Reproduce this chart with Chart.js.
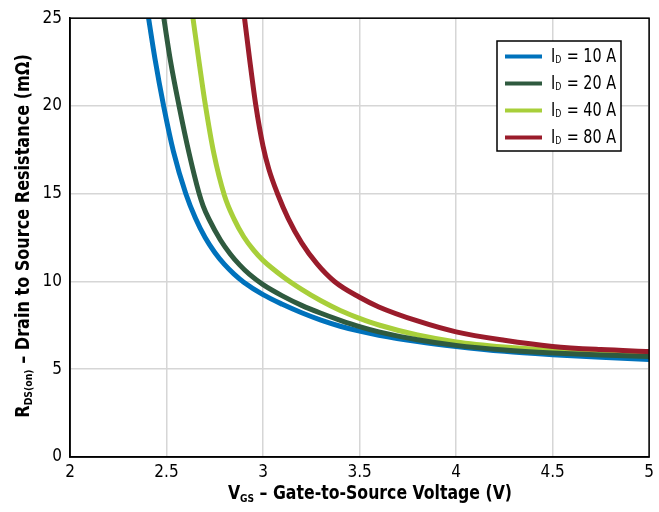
<!DOCTYPE html>
<html><head><meta charset="utf-8">
<script src="https://cdn.jsdelivr.net/npm/chart.js@4/dist/chart.umd.min.js"></script>
<style>html,body{margin:0;padding:0;background:#fff;}#wrap{width:659px;height:512px;position:relative;}</style>
</head><body><div id="wrap"><canvas id="c" width="659" height="512"></canvas></div>
<script>
// ---- data ----
const seriesCurrents = ['10 A', '20 A', '40 A', '80 A'];
const seriesColors = ['#0072bc', '#2f5a3f', '#a8cf3a', '#9a1c2b'];

const vgs10 = [2.407,2.44,2.485,2.536,2.6,2.65,2.7,2.75,2.8,2.85,2.9,3.0,3.1,3.2,3.3,3.4,3.5,3.6,3.8,4.0,4.25,4.5,4.75,5.0];
const rds10 = [25,22.7,20.0,17.4,15.0,13.6,12.5,11.65,10.97,10.42,9.96,9.25,8.7,8.22,7.8,7.45,7.17,6.94,6.58,6.3,6.02,5.83,5.68,5.56];

const vgs20 = [2.486,2.52,2.565,2.616,2.668,2.69,2.72,2.78,2.83,2.88,2.93,3.0,3.1,3.2,3.3,3.4,3.5,3.6,3.8,4.0,4.25,4.5,4.75,5.0];
const rds20 = [25,22.6,20,17.35,15.05,14.3,13.55,12.35,11.57,10.93,10.4,9.82,9.18,8.64,8.19,7.79,7.43,7.13,6.68,6.36,6.1,5.93,5.81,5.72];

const vgs40 = [2.637,2.67,2.702,2.745,2.8,2.85,2.9,2.95,3.0,3.1,3.2,3.3,3.4,3.5,3.6,3.8,4.0,4.25,4.5,4.75,5.0];
const rds40 = [25,22.4,20,17.3,14.9,13.55,12.55,11.8,11.2,10.3,9.55,8.9,8.35,7.9,7.52,6.95,6.56,6.27,6.08,5.95,5.86];

const vgs80 = [2.904,2.93,2.963,3.0,3.03,3.075,3.13,3.2,3.28,3.37,3.5,3.6,3.8,4.0,4.25,4.5,4.75,5.0];
const rds80 = [25,22.7,20,17.7,16.4,15.0,13.6,12.2,11.0,10.0,9.1,8.55,7.75,7.13,6.65,6.3,6.12,6.01];

const xTickValues = [2, 2.5, 3, 3.5, 4, 4.5, 5];
const xTickLabels = ['2', '2.5', '3', '3.5', '4', '4.5', '5'];
const yTickValues = [0, 5, 10, 15, 20, 25];
const yTickLabels = ['0', '5', '10', '15', '20', '25'];

const xTitleParts = [['V', false], ['GS', true], [' \u2013 Gate-to-Source Voltage (V)', false]];
const yTitleParts = [['R', false], ['DS(on)', true], [' \u2013 Drain to Source Resistance (m\u03A9)', false]];

// ---- build ----
const FONT = '"DejaVu Sans Condensed","Liberation Sans Narrow","Arial Narrow",sans-serif';
const xs = [vgs10, vgs20, vgs40, vgs80];
const ys = [rds10, rds20, rds40, rds80];
const drawOrder = [4, 2, 3, 1];
const datasets = seriesCurrents.map((lab, i) => ({
  label: 'ID = ' + lab,
  data: xs[i].map((v, k) => ({ x: v, y: ys[i][k] })),
  borderColor: seriesColors[i],
  backgroundColor: seriesColors[i],
  borderWidth: 5,
  pointRadius: 0,
  fill: false,
  cubicInterpolationMode: 'monotone',
  order: drawOrder[i]
}));

// draws text with subscripts, centred at (cx, cy), compressed horizontally by sx
function drawRich(ctx, parts, cx, cy, size, bold, sx) {
  const w = bold ? 'bold ' : '';
  const main = w + size + 'px ' + FONT;
  const sub = w + Math.round(size * 0.6) + 'px ' + FONT;
  let total = 0;
  parts.forEach(p => { ctx.font = p[1] ? sub : main; total += ctx.measureText(p[0]).width; });
  ctx.save();
  ctx.translate(cx, cy);
  ctx.scale(sx, 1);
  let x = -total / 2;
  ctx.textBaseline = 'middle';
  ctx.textAlign = 'left';
  parts.forEach(p => {
    ctx.font = p[1] ? sub : main;
    ctx.fillText(p[0], x, p[1] ? size * 0.28 : 0);
    x += ctx.measureText(p[0]).width;
  });
  ctx.restore();
}

const decor = {
  id: 'decor',
  afterDatasetsDraw(chart) {
    const ctx = chart.ctx, a = chart.chartArea;
    ctx.save();
    ctx.strokeStyle = '#000';
    ctx.lineWidth = 1.5;
    ctx.strokeRect(a.left, a.top, a.right - a.left, a.bottom - a.top);
    ctx.restore();
  },
  afterDraw(chart) {
    const ctx = chart.ctx;
    ctx.save();
    ctx.fillStyle = '#000';
    drawRich(ctx, xTitleParts, 370, 494, 19, true, 0.92);
    ctx.translate(24, 236);
    ctx.rotate(-Math.PI / 2);
    drawRich(ctx, yTitleParts, 0, 0, 19, true, 0.94);
    ctx.restore();

    // legend
    ctx.save();
    const bx = 497, by = 41, bw = 124, bh = 110;
    ctx.fillStyle = '#fff';
    ctx.fillRect(bx, by, bw, bh);
    ctx.strokeStyle = '#000';
    ctx.lineWidth = 1.5;
    ctx.strokeRect(bx, by, bw, bh);
    seriesCurrents.forEach((lab, i) => {
      const yy = 56.5 + i * 27;
      ctx.strokeStyle = seriesColors[i];
      ctx.lineWidth = 4;
      ctx.beginPath();
      ctx.moveTo(505, yy);
      ctx.lineTo(542, yy);
      ctx.stroke();
      ctx.fillStyle = '#000';
      ctx.save();
      ctx.translate(551, yy);
      ctx.scale(0.8, 1);
      ctx.textBaseline = 'middle';
      ctx.textAlign = 'left';
      let x = 0;
      ctx.font = '20px ' + FONT;
      ctx.fillText('I', x, 0);
      x += ctx.measureText('I').width;
      ctx.font = '11px ' + FONT;
      ctx.fillText('D', x, 4);
      x += ctx.measureText('D').width + 1;
      ctx.font = '20px ' + FONT;
      ctx.fillText(' = ' + lab, x, 0);
      ctx.restore();
    });
    ctx.restore();
  }
};

new Chart(document.getElementById('c'), {
  type: 'line',
  data: { datasets },
  options: {
    responsive: false,
    animation: false,
    devicePixelRatio: 1,
    layout: { padding: { left: 0, right: 5, top: 12, bottom: 0 } },
    plugins: { legend: { display: false }, tooltip: { enabled: false } },
    scales: {
      x: {
        type: 'linear', min: 2, max: 5,
        afterBuildTicks: s => { s.ticks = xTickValues.map(v => ({ value: v })); },
        afterFit: s => { s.height = 55; },
        ticks: {
          callback: v => xTickLabels[xTickValues.indexOf(v)],
          font: { family: FONT, size: 17 }, color: '#000', padding: 5, maxRotation: 0, autoSkip: false
        },
        grid: { color: '#d6d6d6', lineWidth: 1.5, drawTicks: false },
        border: { display: true, color: '#000', width: 1.5 }
      },
      y: {
        type: 'linear', min: 0, max: 25,
        afterBuildTicks: s => { s.ticks = yTickValues.map(v => ({ value: v })); },
        afterFit: s => { s.width = 70; },
        ticks: {
          callback: v => yTickLabels[yTickValues.indexOf(v)],
          font: { family: FONT, size: 17 }, color: '#000', padding: 8, autoSkip: false
        },
        grid: { color: '#d6d6d6', lineWidth: 1.5, drawTicks: false },
        border: { display: true, color: '#000', width: 1.5 }
      }
    }
  },
  plugins: [decor]
});
</script>
</body></html>
